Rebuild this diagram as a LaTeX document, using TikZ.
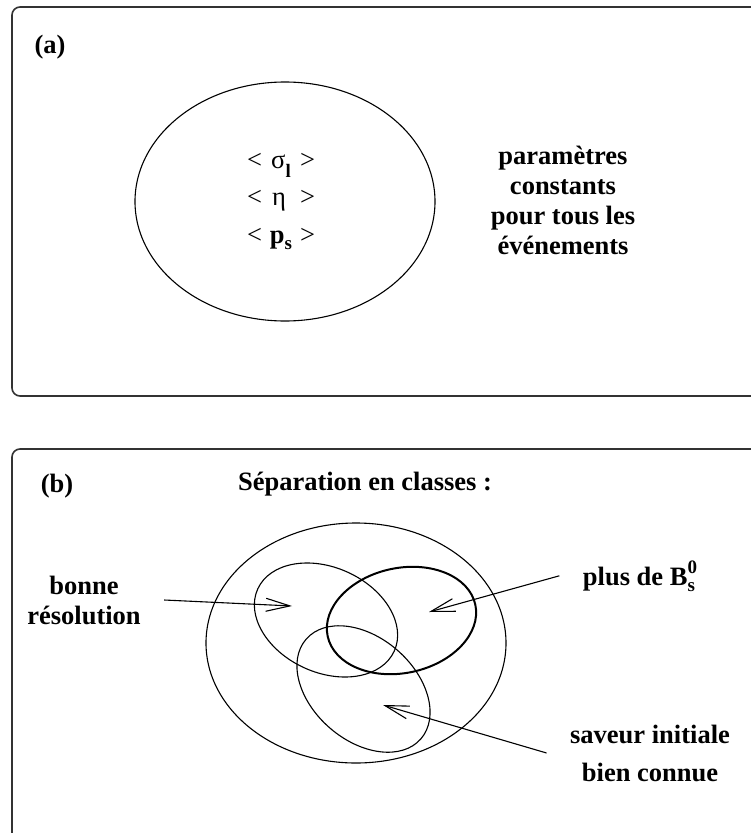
\documentclass[tikz,border=0pt]{standalone}
\usepackage{fontspec}
\setmainfont{Liberation Serif}
\usetikzlibrary{arrows.meta, positioning, shapes.geometric}

\newcommand{\avgbox}[1]{{\mdseries<}\makebox[38pt]{#1}{\mdseries>}}
\newcommand{\subfont}{\fontsize{19}{19}\selectfont}

\begin{document}
\begin{tikzpicture}[
    x=1pt, y=1pt,
    line width=1.1pt,
    font=\fontsize{26.5}{30}\selectfont\bfseries,
    panel/.style={draw=black!80, line width=1.6pt, rounded corners=8pt},
    set/.style={ellipse, draw, inner sep=0pt, minimum width=150pt, minimum height=105pt},
    label node/.style={align=center, inner xsep=23pt, inner ysep=0pt},
    pointer/.style={-{Straight Barb[length=24pt, width=13pt]}}
]
    \useasboundingbox (0,0) rectangle (750,-833);

    % Frames
    \draw[panel] (12,-7) rectangle (780,-396);
    \draw[panel] (12,-449) rectangle (780,-880);

    % Panel (a)
    \node (labA) at (50,-47) {(a)};
    \node[ellipse, draw, inner sep=0pt, minimum width=300pt, minimum height=239pt] (mean) at (285,-201.5) {};
    \node[anchor=base] (sigma) at (281,-168) {\avgbox{{\mdseries σ}\raisebox{-9pt}{\subfont l}}};
    \node[anchor=base] (eta) at (281,-205) {\avgbox{{\mdseries η}\hspace{4pt}}};
    \node[anchor=base] (ps) at (281,-243) {\avgbox{p\raisebox{-6pt}{\subfont s}}};
    \node[label node] (const) at (563,-200) {paramètres\\constants\\pour tous les\\événements};

    % Panel (b)
    \node (labB) at (57,-486) {(b)};
    \node (title) at (365,-484) {Séparation en classes :};
    \node[ellipse, draw, inner sep=0pt, minimum width=300pt, minimum height=240pt] (all) at (356,-643) {};
    \node[set, rotate=-24.5] (resol) at (326,-620) {};
    \node[set, line width=2pt, minimum width=151pt, rotate=12] (bsub) at (401.5,-620.5) {};
    \node[set, minimum width=152pt, minimum height=103pt, rotate=-41] (flav) at (363.5,-689) {};

    \node[label node] (good) at (84,-600) {bonne\\résolution};
    \node[label node, anchor=base] (more) at (640,-585) {plus de B\rlap{\raisebox{-6pt}{\subfont s}}\raisebox{12pt}{\subfont 0}};
    \node[label node] (tag) at (650,-753) {saveur initiale\\[8pt]bien connue};

    \coordinate (tipR) at (292,-606);
    \coordinate (tipB) at (429,-612);
    \coordinate (tipF) at (383,-705);

    % Arrows
    \draw[pointer] (good.east) -- (tipR);
    \draw[pointer] (more.west) -- (tipB);
    \draw[pointer] (tag.west) -- (tipF);
\end{tikzpicture}
\end{document}
